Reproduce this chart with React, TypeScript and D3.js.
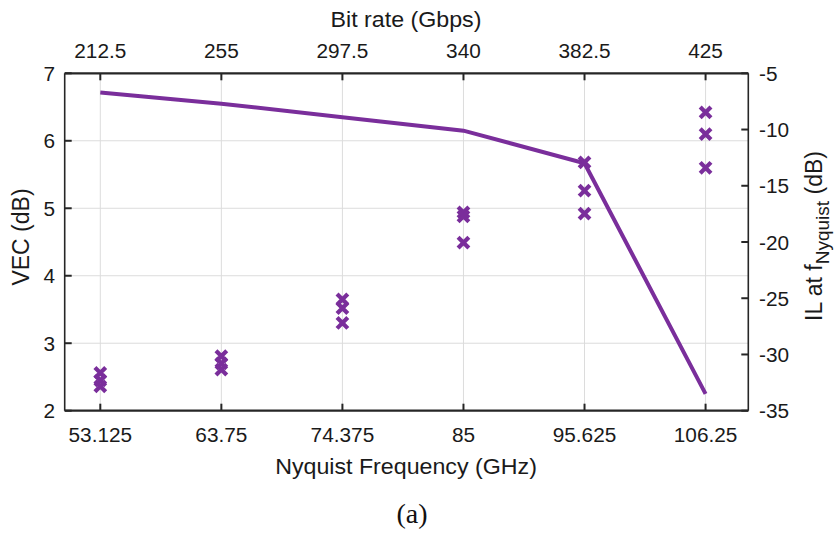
import React from "react";
import * as d3 from "d3";

const nyquist = [53.125, 63.75, 74.375, 85, 95.625, 106.25];
const bitRateLabels = ["212.5", "255", "297.5", "340", "382.5", "425"];
const nyquistLabels = ["53.125", "63.75", "74.375", "85", "95.625", "106.25"];
const ilValues = [-6.7, -7.7, -8.9, -10.1, -13.0, -33.5];
const vecRuns = [
  [2.56, 2.45, 2.36],
  [2.81, 2.7, 2.61],
  [3.65, 3.52, 3.3],
  [4.94, 4.88, 4.49],
  [5.68, 5.26, 4.92],
  [6.42, 6.1, 5.6],
];
const vecTicks = [2, 3, 4, 5, 6, 7];
const ilTicks = [-5, -10, -15, -20, -25, -30, -35];

const W = 836, H = 535;
const X0 = 64.7, X1 = 748.3, Y0 = 73.3, Y1 = 410.7;
const PURPLE = "#7A2E9B";
const AX = "#262626";
const SANS = "'Liberation Sans', Arial, sans-serif";

function T({ x, y, size, sx = 1.04, anchor = "middle", children }: any) {
  return (
    <text
      transform={`translate(${x},${y}) scale(${sx},1)`}
      fontSize={size}
      fontFamily={SANS}
      textAnchor={anchor}
      fill="#1a1a1a"
    >
      {children}
    </text>
  );
}

export default function App() {
  const x = d3.scaleLinear().domain([50, 110]).range([X0, X1]);
  const yL = d3.scaleLinear().domain([2, 7]).range([Y1, Y0]);
  const yR = d3.scaleLinear().domain([-35, -5]).range([Y1, Y0]);
  const line = d3.line<number>().x((_, i) => x(nyquist[i])).y((d) => yR(d));
  const tk = 7;
  const m = 3.9;
  return (
    <svg width={W} height={H} style={{ display: "block", position: "absolute", left: 0, top: 0 }}>
      <rect width={W} height={H} fill="#fff" />
      {nyquist.map((f, i) => (
        <line key={"gx" + i} x1={x(f)} x2={x(f)} y1={Y0} y2={Y1} stroke="#dcdcdc" strokeWidth={1} />
      ))}
      {vecTicks.map((v, i) => (
        <line key={"gy" + i} x1={X0} x2={X1} y1={yL(v)} y2={yL(v)} stroke="#dcdcdc" strokeWidth={1} />
      ))}
      {nyquist.map((f, i) => (
        <g key={"tx" + i}>
          <line x1={x(f)} x2={x(f)} y1={Y1} y2={Y1 - tk} stroke={AX} strokeWidth={2} />
          <line x1={x(f)} x2={x(f)} y1={Y0} y2={Y0 + tk} stroke={AX} strokeWidth={2} />
        </g>
      ))}
      {vecTicks.map((v, i) => (
        <line key={"tl" + i} x1={X0} x2={X0 + tk} y1={yL(v)} y2={yL(v)} stroke={AX} strokeWidth={2} />
      ))}
      {ilTicks.map((v, i) => (
        <line key={"tr" + i} x1={X1} x2={X1 - tk} y1={yR(v)} y2={yR(v)} stroke={AX} strokeWidth={2} />
      ))}
      <line x1={X0} x2={X1} y1={Y1} y2={Y1} stroke={AX} strokeWidth={2.2} />
      <line x1={X0} x2={X1} y1={Y0} y2={Y0} stroke={AX} strokeWidth={2.2} />
      <line x1={X0} x2={X0} y1={Y0} y2={Y1} stroke={AX} strokeWidth={1.6} />
      <line x1={X1} x2={X1} y1={Y0} y2={Y1} stroke={AX} strokeWidth={1.6} />
      <path d={line(ilValues) || ""} fill="none" stroke={PURPLE} strokeWidth={4} strokeLinejoin="miter" />
      {vecRuns.map((runs, i) =>
        runs.map((v, j) => {
          const cx = x(nyquist[i]);
          const cy = yL(v);
          return (
            <path
              key={`m${i}-${j}`}
              d={`M${cx - m},${cy - m}L${cx + m},${cy + m}M${cx - m},${cy + m}L${cx + m},${cy - m}`}
              stroke={PURPLE}
              strokeWidth={4.2}
              strokeLinecap="square"
              fill="none"
            />
          );
        })
      )}
      {nyquist.map((f, i) => (
        <T key={"lb" + i} x={x(f)} y={442} size={20}>{nyquistLabels[i]}</T>
      ))}
      {nyquist.map((f, i) => (
        <T key={"lt" + i} x={x(f)} y={58} size={20}>{bitRateLabels[i]}</T>
      ))}
      {vecTicks.map((v, i) => (
        <T key={"ll" + i} x={55} y={yL(v) + 7.5} size={20} anchor="end">{String(v)}</T>
      ))}
      {ilTicks.map((v, i) => (
        <T key={"lr" + i} x={759} y={yR(v) + 7.5} size={20} anchor="start">{String(v)}</T>
      ))}
      <T x={406} y={27} size={21.5} sx={1.08}>Bit rate (Gbps)</T>
      <T x={406} y={474} size={21.5} sx={1.08}>Nyquist Frequency (GHz)</T>
      <text
        transform={`translate(29,237) rotate(-90)`}
        fontSize={23}
        fontFamily={SANS}
        textAnchor="middle"
        fill="#1a1a1a"
      >
        VEC (dB)
      </text>
      <text
        transform={`translate(822,236) rotate(-90)`}
        fontSize={23}
        fontFamily={SANS}
        textAnchor="middle"
        fill="#1a1a1a"
      >
        IL at f
        <tspan fontSize={19} dy={7}>Nyquist</tspan>
        <tspan dy={-7}> (dB)</tspan>
      </text>
      <text x={412} y={523} fontSize={28} fontFamily="'Liberation Serif', 'Times New Roman', serif" textAnchor="middle" fill="#111">
        (a)
      </text>
    </svg>
  );
}
